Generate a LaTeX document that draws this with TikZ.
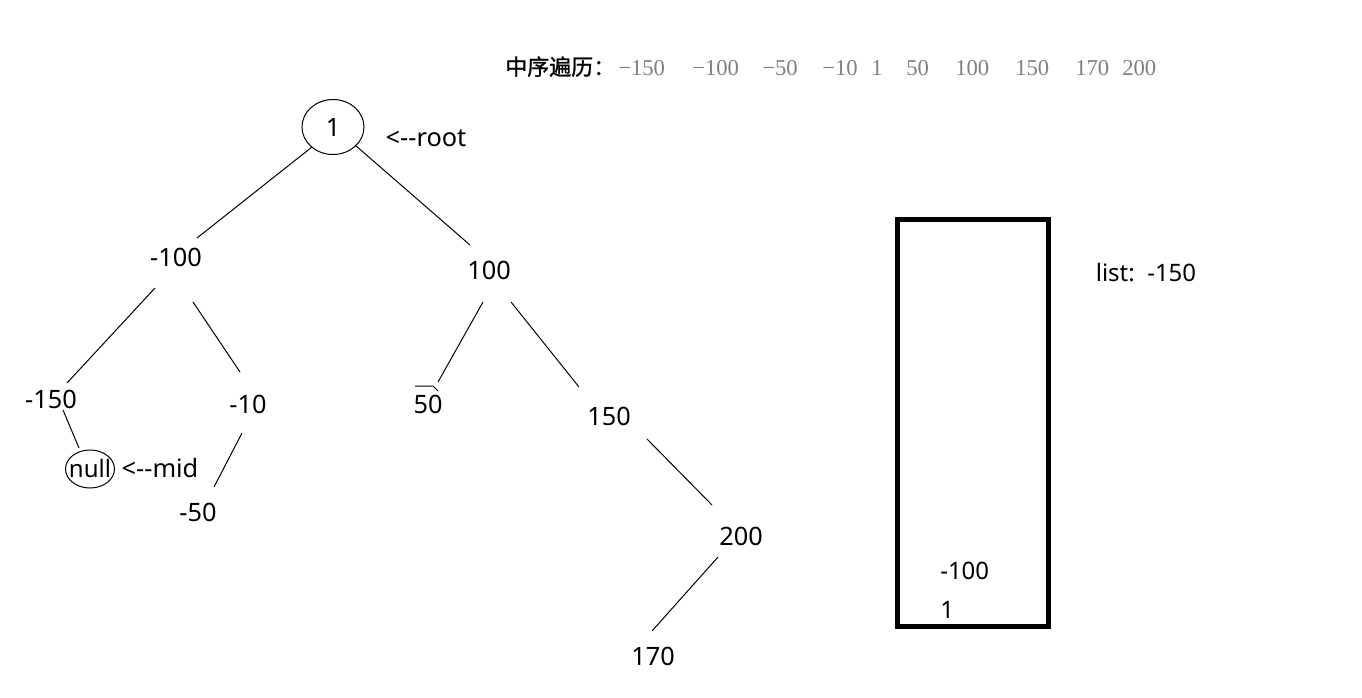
\documentclass[tikz,border=0pt]{standalone}
\usepackage{fontspec}
\setmainfont{Noto Sans}
\newfontfamily\cjkfont[FakeBold=1.2]{Noto Sans CJK SC}
\newfontfamily\serifnum{Liberation Serif}
\usetikzlibrary{shapes.geometric}
\definecolor{numgray}{RGB}{128,128,128}
\begin{document}
\begin{tikzpicture}[x=0.75pt,y=-0.75pt,
  lbl/.style={inner sep=0pt,font=\fontsize{19}{23}\selectfont},
  slbl/.style={inner sep=0pt,font=\fontsize{18}{22}\selectfont},
  hnum/.style={inner sep=0pt,anchor=base west,text=numgray,font=\serifnum\fontsize{17}{20}\selectfont},
  edge/.style={line width=0.75pt},
  oval/.style={draw,ellipse,line width=0.75pt,inner sep=0pt}]
\useasboundingbox (0,0) rectangle (1362,697);

% header
\node[anchor=base west,inner sep=0pt,font=\cjkfont\fontsize{16.5}{19}\selectfont] (hdr) at (505,75) {中序遍历：};
\foreach \x/\t [count=\i] in {618/−150,692/−100,762/−50,822/−10,871/1,906/50,955/100,1015/150,1075/170,1122/200}
  \node[hnum] (hn\i) at (\x,75) {\t};

% tree
\node[oval,minimum width=46.5pt,minimum height=41.25pt] (root) at (333,127) {};
\node[lbl] (roottxt) at (333,127) {1};
\node[lbl] (rootlbl) at (426,138) {<{-}{-}root};
\node[lbl] (m100) at (176,257) {-100};
\node[lbl] (p100) at (489,270) {100};
\node[lbl] (m150) at (51,399) {-150};
\node[lbl] (m10) at (248,404) {-10};
\node[lbl] (p50) at (428,404) {50};
\node[lbl] (p150) at (609,416) {150};
\node[oval,minimum width=36.75pt,minimum height=28.5pt] (null) at (90,469) {};
\node[slbl] (nulltxt) at (90,468) {null};
\node[lbl] (midlbl) at (160,468) {<{-}{-}mid};
\node[lbl] (m50) at (198,512) {-50};
\node[lbl] (p200) at (741,536) {200};
\node[lbl] (p170) at (653,656) {170};

\draw[edge] ([shift={(-21,20)}]root.center) -- ([shift={(21,-19)}]m100.center);
\draw[edge] ([shift={(22,18)}]root.center) -- ([shift={(-19,-25)}]p100.center);
\draw[edge] ([shift={(-21,31)}]m100.center) -- ([shift={(16,-16)}]m150.center);
\draw[edge] ([shift={(17,45)}]m100.center) -- ([shift={(-8,-32)}]m10.center);
\draw[edge] ([shift={(-6,32)}]p100.center) -- ([shift={(10,-22)}]p50.center);
\draw[edge] ([shift={(22,32)}]p100.center) -- ([shift={(-30,-29)}]p150.center);
\draw[edge] ([shift={(12,11)}]m150.center) -- ([shift={(-11,-21)}]null.center);
\draw[edge] ([shift={(-6,29)}]m10.center) -- ([shift={(16,-25)}]m50.center);
\draw[edge] ([shift={(38,23)}]p150.center) -- ([shift={(-29,-31)}]p200.center);
\draw[edge] ([shift={(-23,21)}]p200.center) -- ([shift={(-1,-25)}]p170.center);
\draw[edge] (p50.center) ++(-13,-18) -- ++(18,0) -- ++(5,5);

% stack
\node[draw,line width=3.75pt,minimum width=113.25pt,minimum height=305.25pt,inner sep=0pt] (stack) at (973,423) {};
\node[slbl,anchor=west] (s100) at (940,571) {-100};
\node[slbl,anchor=west] (s1) at (940,610) {1};
\node[slbl] (list) at (1146,273) {list:\ \ -150};
\end{tikzpicture}
\end{document}
